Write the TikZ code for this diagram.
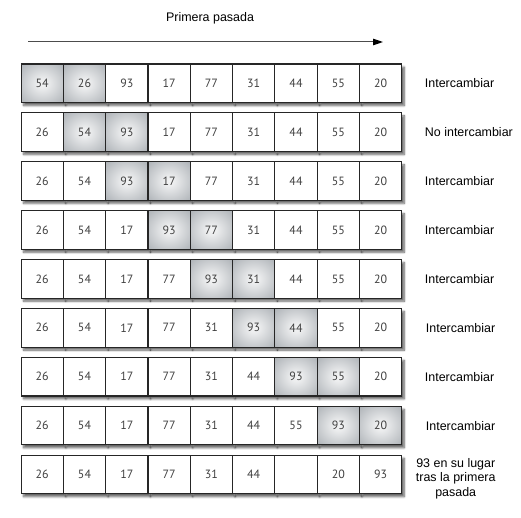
\documentclass[tikz,border=0pt]{standalone}
\usepackage{fontspec}
\setmainfont{Liberation Sans}
\newfontfamily\cellfont{PT Sans}
\usetikzlibrary{positioning,arrows.meta,shadows.blur}
\definecolor{rim}{RGB}{150,156,162}
\pgfdeclareradialshading{cellglow}{\pgfpoint{0bp}{0bp}}{color(0bp)=(rim!12);color(6bp)=(rim!18);color(42bp)=(rim!90);color(50bp)=(rim)}
\tikzset{
  cell/.style={draw=black!85, line width=1.1bp, outer sep=0pt, inner sep=0pt,
    minimum width=42.3bp, minimum height=38.5bp, fill=white, text=black!75,
    font=\cellfont\fontsize{12}{12}\selectfont,
    blur shadow={shadow xshift=2.5bp, shadow yshift=-3bp, shadow blur steps=6, shadow opacity=60}},
  hot/.style={cell, shading=cellglow},
  note/.style={inner sep=0pt, font=\fontsize{12.5}{14.5}\selectfont}
}
\begin{document}
\begin{tikzpicture}[x=1bp,y=-1bp]
  \useasboundingbox (0,0) rectangle (521,518);
  \node[note] (title) at (210,18) {Primera pasada};
  \coordinate (go) at (28,42);
  \coordinate (stop) at (383,42);
  \draw[black!70, line width=1bp, -{Triangle[length=10bp,width=6.5bp,black]}] (go) -- (stop);
  % rows of the first pass
  \path (42.2,83.3) node[hot] (a1){54} ++(42.3,0) node[hot] (a2){26} ++(42.3,0) node[cell] (a3){93}
    ++(42.3,0) node[cell] (a4){17} ++(42.3,0) node[cell] (a5){77} ++(42.3,0) node[cell] (a6){31}
    ++(42.3,0) node[cell] (a7){44} ++(42.3,0) node[cell] (a8){55} ++(42.3,0) node[cell] (a9){20};
  \path (42.2,132.2) node[cell] (b1){26} ++(42.3,0) node[hot] (b2){54} ++(42.3,0) node[hot] (b3){93}
    ++(42.3,0) node[cell] (b4){17} ++(42.3,0) node[cell] (b5){77} ++(42.3,0) node[cell] (b6){31}
    ++(42.3,0) node[cell] (b7){44} ++(42.3,0) node[cell] (b8){55} ++(42.3,0) node[cell] (b9){20};
  \path (42.2,181.1) node[cell] (c1){26} ++(42.3,0) node[cell] (c2){54} ++(42.3,0) node[hot] (c3){93}
    ++(42.3,0) node[hot] (c4){17} ++(42.3,0) node[cell] (c5){77} ++(42.3,0) node[cell] (c6){31}
    ++(42.3,0) node[cell] (c7){44} ++(42.3,0) node[cell] (c8){55} ++(42.3,0) node[cell] (c9){20};
  \path (42.2,230) node[cell] (d1){26} ++(42.3,0) node[cell] (d2){54} ++(42.3,0) node[cell] (d3){17}
    ++(42.3,0) node[hot] (d4){93} ++(42.3,0) node[hot] (d5){77} ++(42.3,0) node[cell] (d6){31}
    ++(42.3,0) node[cell] (d7){44} ++(42.3,0) node[cell] (d8){55} ++(42.3,0) node[cell] (d9){20};
  \path (42.2,278.9) node[cell] (e1){26} ++(42.3,0) node[cell] (e2){54} ++(42.3,0) node[cell] (e3){17}
    ++(42.3,0) node[cell] (e4){77} ++(42.3,0) node[hot] (e5){93} ++(42.3,0) node[hot] (e6){31}
    ++(42.3,0) node[cell] (e7){44} ++(42.3,0) node[cell] (e8){55} ++(42.3,0) node[cell] (e9){20};
  \path (42.2,327.8) node[cell] (f1){26} ++(42.3,0) node[cell] (f2){54} ++(42.3,0) node[cell] (f3){17}
    ++(42.3,0) node[cell] (f4){77} ++(42.3,0) node[cell] (f5){31} ++(42.3,0) node[hot] (f6){93}
    ++(42.3,0) node[hot] (f7){44} ++(42.3,0) node[cell] (f8){55} ++(42.3,0) node[cell] (f9){20};
  \path (42.2,376.7) node[cell] (g1){26} ++(42.3,0) node[cell] (g2){54} ++(42.3,0) node[cell] (g3){17}
    ++(42.3,0) node[cell] (g4){77} ++(42.3,0) node[cell] (g5){31} ++(42.3,0) node[cell] (g6){44}
    ++(42.3,0) node[hot] (g7){93} ++(42.3,0) node[hot] (g8){55} ++(42.3,0) node[cell] (g9){20};
  \path (42.2,425.6) node[cell] (h1){26} ++(42.3,0) node[cell] (h2){54} ++(42.3,0) node[cell] (h3){17}
    ++(42.3,0) node[cell] (h4){77} ++(42.3,0) node[cell] (h5){31} ++(42.3,0) node[cell] (h6){44}
    ++(42.3,0) node[cell] (h7){55} ++(42.3,0) node[hot] (h8){93} ++(42.3,0) node[hot] (h9){20};
  \path (42.2,474.5) node[cell] (i1){26} ++(42.3,0) node[cell] (i2){54} ++(42.3,0) node[cell] (i3){17}
    ++(42.3,0) node[cell] (i4){77} ++(42.3,0) node[cell] (i5){31} ++(42.3,0) node[cell] (i6){44}
    ++(42.3,0) node[cell] (i7){} ++(42.3,0) node[cell] (i8){20} ++(42.3,0) node[cell] (i9){93};
  % what happens in each row
  \node[note, right=23bp of a9] (la) {Intercambiar};
  \node[note, right=23bp of b9] (lb) {No intercambiar};
  \node[note, right=23bp of c9] (lc) {Intercambiar};
  \node[note, right=23bp of d9] (ld) {Intercambiar};
  \node[note, right=23bp of e9] (le) {Intercambiar};
  \node[note, right=24bp of f9] (lf) {Intercambiar};
  \node[note, right=23bp of g9] (lg) {Intercambiar};
  \node[note, right=24bp of h9] (lh) {Intercambiar};
  \node[note, align=center, right=14bp of i9, yshift=-4bp] (li) {93 en su lugar\\tras la primera\\pasada};
\end{tikzpicture}
\end{document}
